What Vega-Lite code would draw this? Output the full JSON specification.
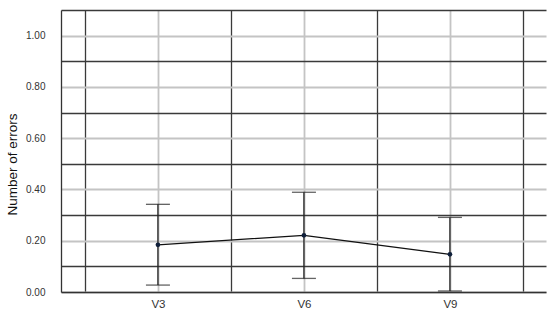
{
  "$schema": "https://vega.github.io/schema/vega-lite/v6.json",
  "width": 485,
  "height": 282,
  "autosize": "none",
  "padding": {"left": 61, "top": 10, "right": 4, "bottom": 22},
  "background": "white",
  "config": {"view": {"stroke": null}, "font": "Liberation Sans"},
  "data": {"values": [
    {"visit": "V3", "idx": 1, "mean": 0.184, "lower": 0.027, "upper": 0.342},
    {"visit": "V6", "idx": 2, "mean": 0.221, "lower": 0.053, "upper": 0.389},
    {"visit": "V9", "idx": 3, "mean": 0.147, "lower": 0.004, "upper": 0.291}
  ]},
  "resolve": {"axis": {"x": "independent", "y": "independent"}},
  "layer": [
    {
      "mark": {"type": "rule", "color": "#222222", "strokeWidth": 1.3},
      "encoding": {
        "x": {"field": "idx", "type": "quantitative",
          "scale": {"domain": [0.336, 3.658], "nice": false, "zero": false},
          "axis": {"values": [1, 2, 3], "labelExpr": "datum.value == 1 ? 'V3' : datum.value == 2 ? 'V6' : 'V9'",
            "title": null, "grid": true, "gridColor": "#c4c4c4", "gridWidth": 1.8, "ticks": false,
            "domain": true, "domainColor": "#333333", "domainWidth": 1.3, "labelFontSize": 11.5, "labelColor": "#333333", "labelPadding": 6}},
        "y": {"field": "lower", "type": "quantitative",
          "scale": {"domain": [0, 1.1], "nice": false, "zero": true},
          "axis": {"values": [0, 0.2, 0.4, 0.6, 0.8, 1.0], "format": ".2f", "title": "Number of errors",
            "titleFontSize": 13.5, "titleFontWeight": "normal", "titleColor": "#111111", "titleX": -42, "titleY": 154,
            "grid": true, "gridColor": "#c4c4c4", "gridWidth": 1.8, "ticks": false,
            "domain": true, "domainColor": "#333333", "domainWidth": 1.3, "labelFontSize": 10, "labelColor": "#333333", "labelPadding": 16}},
        "y2": {"field": "upper"}
      }
    },
    {
      "mark": {"type": "tick", "orient": "horizontal", "color": "#222222", "thickness": 1.3, "size": 24},
      "encoding": {
        "x": {"field": "idx", "type": "quantitative",
          "axis": {"values": [0.5, 1.5, 2.5, 3.5], "orient": "top", "labels": false, "ticks": false, "domain": false, "title": null,
            "grid": true, "gridColor": "#3a3a3a", "gridWidth": 1.3}},
        "y": {"field": "lower", "type": "quantitative",
          "axis": {"values": [0.1, 0.3, 0.5, 0.7, 0.9, 1.1], "orient": "right", "labels": false, "ticks": false, "domain": false, "title": null,
            "grid": true, "gridColor": "#3a3a3a", "gridWidth": 1.3}}
      }
    },
    {
      "mark": {"type": "tick", "orient": "horizontal", "color": "#222222", "thickness": 1.3, "size": 24},
      "encoding": {
        "x": {"field": "idx", "type": "quantitative", "axis": null},
        "y": {"field": "upper", "type": "quantitative", "axis": null}
      }
    },
    {
      "mark": {"type": "line", "color": "#111111", "strokeWidth": 1.3},
      "encoding": {
        "x": {"field": "idx", "type": "quantitative", "axis": null},
        "y": {"field": "mean", "type": "quantitative", "axis": null}
      }
    },
    {
      "mark": {"type": "point", "filled": true, "color": "#0f1f3a", "size": 22, "opacity": 1},
      "encoding": {
        "x": {"field": "idx", "type": "quantitative", "axis": null},
        "y": {"field": "mean", "type": "quantitative", "axis": null}
      }
    }
  ]
}
